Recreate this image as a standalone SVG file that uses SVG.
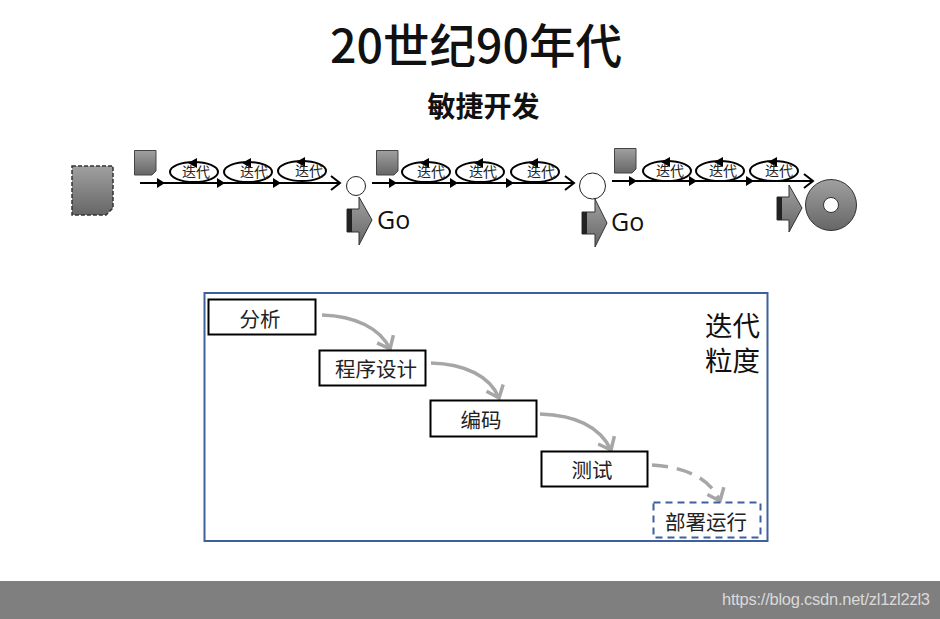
<svg xmlns="http://www.w3.org/2000/svg" width="940" height="619" viewBox="0 0 940 619">
<style>
text{font-family:"Noto Sans CJK SC","Noto Sans",sans-serif;fill:#111}
.lab{font-size:14px;text-anchor:middle;fill:#222}
.box{fill:#fff;stroke:#000;stroke-width:2}
.step{font-size:20.500px;text-anchor:middle;fill:#222}
.flow{fill:none;stroke:#000;stroke-width:2}
.iter{fill:#fff;stroke:#000;stroke-width:2}
.doc{fill:url(#g);stroke:#444;stroke-width:1;stroke-linejoin:miter}
.go{font-family:"Open Sans","Noto Sans",sans-serif;font-size:25px;font-weight:500}
.cv{fill:none;stroke:#a6a6a6;stroke-width:3.500}
</style>
<defs>
<linearGradient id="g" x1="0" y1="0" x2="0" y2="1"><stop offset="0" stop-color="#a0a0a0"/><stop offset="1" stop-color="#666"/></linearGradient>
<marker id="open" markerUnits="userSpaceOnUse" markerWidth="12" markerHeight="16" refX="10" refY="8" orient="auto"><path d="M1 1L10 8L1 15" fill="none" stroke="#000" stroke-width="2"/></marker>
<marker id="chev" markerUnits="userSpaceOnUse" markerWidth="18" markerHeight="22" refX="14" refY="11" orient="auto"><path d="M3 2L14 11L3 20" fill="none" stroke="#a6a6a6" stroke-width="3.500"/></marker>
<path id="lhead" d="M-6 0L3 -5L3 5Z" fill="#000"/>
</defs>
<rect width="940" height="619" fill="#fff"/>
<text x="476" y="63" font-size="46.500" font-weight="500" text-anchor="middle">20世纪90年代</text>
<text x="483.500" y="117" font-size="28" font-weight="700" text-anchor="middle">敏捷开发</text>

<g id="connectors">
<path class="flow" marker-end="url(#open)" d="M140 183H340"/>
<path d="M157 178L165 183L157 188Z M217 178L225 183L217 188Z M273 178L281 183L273 188Z"/>
<path class="flow" marker-end="url(#open)" d="M372 183H574"/>
<path d="M389 178L397 183L389 188Z M450 178L458 183L450 188Z M506 178L514 183L506 188Z"/>
<path class="flow" marker-end="url(#open)" d="M612 181H813"/>
<path d="M629 176L637 181L629 186Z M689 176L697 181L689 186Z M746 176L754 181L746 186Z"/>
<path class="cv" marker-end="url(#chev)" d="M322 315C355 316 380 328 390 349"/>
<path class="cv" marker-end="url(#chev)" d="M431 363C465 364 490 376 499 398"/>
<path class="cv" marker-end="url(#chev)" d="M540 414C575 415 600 427 611 450"/>
<path class="cv" marker-end="url(#chev)" stroke-dasharray="16 9" d="M652 465C685 467 710 478 720 501"/>
</g>

<g id="doc-start"><path d="M72 166H113V208L106 215H72Z" fill="url(#g)" stroke="#333" stroke-width="1.500" stroke-dasharray="4 2"/></g>
<g id="doc-1"><path class="doc" d="M134.500 150.500H156V171L152 175H134.500Z"/></g>
<g id="doc-2"><path class="doc" d="M376.500 150.500H398V171L394 175H376.500Z"/></g>
<g id="doc-3"><path class="doc" d="M614.500 148.500H636V169L632 173H614.500Z"/></g>

<g id="iter-1-1"><ellipse class="iter" cx="194" cy="172" rx="24" ry="10"/><use href="#lhead" x="194" y="163"/><text class="lab" x="196" y="177">迭代</text></g>
<g id="iter-1-2"><ellipse class="iter" cx="248" cy="172" rx="24" ry="10"/><use href="#lhead" x="248" y="163"/><text class="lab" x="254" y="177">迭代</text></g>
<g id="iter-1-3"><ellipse class="iter" cx="302" cy="171" rx="24" ry="10"/><use href="#lhead" x="302" y="162"/><text class="lab" x="309" y="176">迭代</text></g>
<g id="iter-2-1"><ellipse class="iter" cx="426" cy="172" rx="24" ry="10"/><use href="#lhead" x="426" y="163"/><text class="lab" x="431" y="177">迭代</text></g>
<g id="iter-2-2"><ellipse class="iter" cx="480" cy="172" rx="24" ry="10"/><use href="#lhead" x="480" y="163"/><text class="lab" x="483" y="177">迭代</text></g>
<g id="iter-2-3"><ellipse class="iter" cx="535" cy="172" rx="24" ry="10"/><use href="#lhead" x="535" y="163"/><text class="lab" x="541" y="177">迭代</text></g>
<g id="iter-3-1"><ellipse class="iter" cx="667" cy="171" rx="24" ry="10"/><use href="#lhead" x="667" y="162"/><text class="lab" x="670" y="176">迭代</text></g>
<g id="iter-3-2"><ellipse class="iter" cx="720" cy="171" rx="24" ry="10"/><use href="#lhead" x="720" y="162"/><text class="lab" x="723" y="176">迭代</text></g>
<g id="iter-3-3"><ellipse class="iter" cx="774" cy="171" rx="24" ry="10"/><use href="#lhead" x="774" y="162"/><text class="lab" x="779" y="176">迭代</text></g>

<g id="milestone-1"><circle cx="356" cy="186" r="9.500" fill="#fff" stroke="#222"/></g>
<g id="milestone-2"><circle cx="592.500" cy="186" r="13" fill="#fff" stroke="#222"/></g>

<g id="go-1">
<path d="M347 209H359V197L372 220L359 245V232H347Z" fill="url(#g)" stroke="#333"/>
<rect x="347" y="209" width="5" height="23" fill="#222"/>
<text class="go" x="377" y="229">Go</text>
</g>
<g id="go-2">
<path d="M582 212H595V199L607 223L595 247V234H582Z" fill="url(#g)" stroke="#333"/>
<rect x="582" y="212" width="5" height="22" fill="#222"/>
<text class="go" x="611" y="231">Go</text>
</g>
<g id="go-3">
<path d="M777 197H789V185L802 208L789 232V220H777Z" fill="url(#g)" stroke="#333"/>
<rect x="777" y="197" width="5" height="23" fill="#222"/>
</g>
<g id="disc"><circle cx="831" cy="205" r="25.500" fill="url(#g)" stroke="#333"/><circle cx="831" cy="205" r="7.500" fill="#fff" stroke="#333"/></g>

<g id="frame"><rect x="204.500" y="293" width="563" height="248" fill="none" stroke="#3f5f9f" stroke-width="2"/></g>
<g id="granularity"><text font-size="27.500" text-anchor="middle"><tspan x="732.500" y="336">迭代</tspan><tspan x="732.500" y="371">粒度</tspan></text></g>
<g id="step-analysis"><rect class="box" x="208.500" y="299.500" width="107" height="35"/><text class="step" x="260" y="326.500">分析</text></g>
<g id="step-design"><rect class="box" x="319.500" y="350.500" width="106" height="35"/><text class="step" x="376" y="376.500">程序设计</text></g>
<g id="step-code"><rect class="box" x="430.500" y="400.500" width="106" height="36"/><text class="step" x="481" y="427.500">编码</text></g>
<g id="step-test"><rect class="box" x="541.500" y="451.500" width="106" height="35"/><text class="step" x="592" y="478">测试</text></g>
<g id="step-deploy"><rect x="653.500" y="502.500" width="107" height="35" fill="#fff" stroke="#3f5f9f" stroke-width="2" stroke-dasharray="7 5"/><text class="step" x="706" y="529.500">部署运行</text></g>

<rect x="0" y="581" width="940" height="38" fill="#7f7f7f"/>
<text x="722" y="605" font-size="16.500" style="font-family:'Liberation Sans',sans-serif;fill:#d9d9d9" textLength="208">https://blog.csdn.net/zl1zl2zl3</text>
</svg>
